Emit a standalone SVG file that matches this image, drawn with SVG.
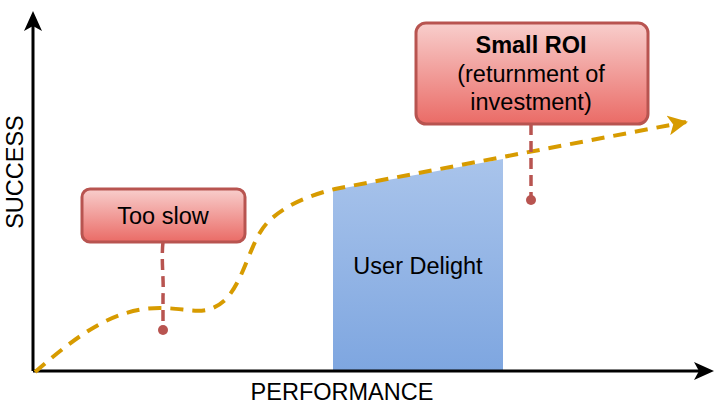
<svg xmlns="http://www.w3.org/2000/svg" width="725" height="405" viewBox="0 0 725 405">
<style>
text{font-family:"Liberation Sans",Arial,Helvetica,sans-serif;font-size:23.5px;fill:#000;}
.box{stroke:#b85450;stroke-width:3;fill:url(#redg);}
.pin{fill:none;stroke:#b85450;stroke-width:3.5;stroke-dasharray:11 6;}
.dot{fill:#b85450;}
.axis{fill:none;stroke:#000;stroke-width:3;}
</style>
<defs>
<linearGradient id="redg" x1="0" y1="0" x2="0" y2="1">
<stop offset="0" stop-color="#f8cecc"/>
<stop offset="1" stop-color="#ea6b66"/>
</linearGradient>
<linearGradient id="blueg" x1="0" y1="0" x2="0" y2="1">
<stop offset="0" stop-color="#a9c4eb"/>
<stop offset="1" stop-color="#7ea6e0"/>
</linearGradient>
<marker id="oarrow" viewBox="0 0 10 10" refX="9" refY="5" markerWidth="5" markerHeight="5" orient="auto" markerUnits="strokeWidth">
<path d="M0 0 L10 5 L0 10 L2.5 5 Z" fill="#d79b00"/>
</marker>
</defs>

<g id="user-delight">
<path d="M333 190 L503 159 L503 371 L333 371 Z" fill="url(#blueg)"/>
<text x="418" y="274" text-anchor="middle">User Delight</text>
</g>

<g id="axes">
<path class="axis" d="M33 371 L33 22"/>
<path d="M33 11 L42 31 L33 26 L24 31 Z" fill="#000"/>
<path class="axis" d="M33 371 L703 371"/>
<path d="M714 371 L694 380 L699 371 L694 362 Z" fill="#000"/>
<text x="23" y="172" text-anchor="middle" transform="rotate(-90 23 172)">SUCCESS</text>
<text x="342" y="400" text-anchor="middle">PERFORMANCE</text>
</g>

<g id="connectors">
<path d="M35 372 C80 333,115 308,160 308 C190 308,205 318,225 300 C245 280,250 240,268 222 C285 205,310 195,335 189 L686 122" fill="none" stroke="#d79b00" stroke-width="4" stroke-dasharray="13 9" marker-end="url(#oarrow)"/>
<path class="pin" d="M163 242 C161 260,164 280,163 296 C163 310,163 318,163 330"/>
<circle class="dot" cx="163" cy="330" r="5"/>
<path class="pin" d="M531 124 L531 200"/>
<circle class="dot" cx="531" cy="200" r="5"/>
</g>

<g id="too-slow">
<rect class="box" x="82" y="189" width="163" height="53" rx="8"/>
<text x="163" y="224" text-anchor="middle">Too slow</text>
</g>

<g id="small-roi">
<rect class="box" x="416" y="23" width="232" height="101" rx="10"/>
<text x="531" y="53" text-anchor="middle" font-weight="bold">Small ROI</text>
<text x="531" y="82" text-anchor="middle">(returnment of</text>
<text x="531" y="110" text-anchor="middle">investment)</text>
</g>
</svg>
